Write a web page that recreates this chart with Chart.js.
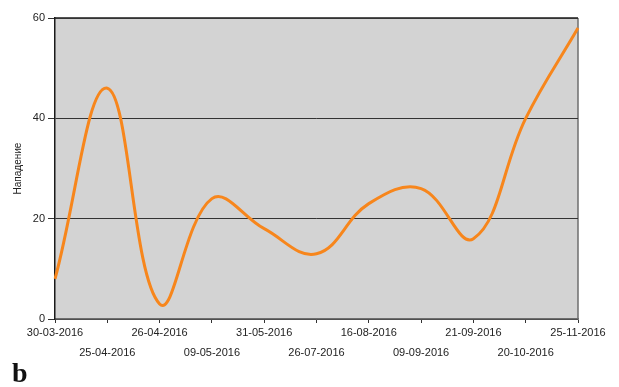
<!DOCTYPE html>
<html>
<head>
<meta charset="utf-8">
<script src="https://cdn.jsdelivr.net/npm/chart.js@4/dist/chart.umd.min.js"></script>
<style>
  html, body { margin: 0; padding: 0; background: #fff; }
  #wrap { width: 619px; height: 387px; position: relative; }
</style>
</head>
<body>
<div id="wrap"><canvas id="c" width="619" height="387"></canvas></div>
<script>
// Attack ("Нападение") readings by date
const dates = ['30-03-2016', '25-04-2016', '26-04-2016', '09-05-2016', '31-05-2016', '26-07-2016',
               '16-08-2016', '09-09-2016', '21-09-2016', '20-10-2016', '25-11-2016'];
const attack = [8, 46, 3, 24, 18, 13, 23, 26, 16, 40, 58];
const yTicks = [0, 20, 40, 60];

const PLOT = { left: 55, right: 578, top: 18, bottom: 319 };

// gray plot background plus frame lines
const plotFrame = {
  id: 'plotFrame',
  beforeDraw(chart) {
    const { ctx, chartArea: a } = chart;
    ctx.save();
    ctx.fillStyle = '#d3d3d3';
    ctx.fillRect(a.left, a.top, a.right - a.left, a.bottom - a.top);
    ctx.lineWidth = 1.5;
    ctx.strokeStyle = '#1a1a1a';
    ctx.beginPath();
    ctx.moveTo(a.left, a.top);
    ctx.lineTo(a.right, a.top);
    ctx.stroke();
    ctx.strokeStyle = '#6e6e6e';
    ctx.beginPath();
    ctx.moveTo(a.right, a.top);
    ctx.lineTo(a.right, a.bottom);
    ctx.stroke();
    ctx.restore();
  },
  afterDraw(chart) {
    const { ctx } = chart;
    ctx.save();
    ctx.fillStyle = '#111';
    ctx.font = 'bold 28px "Liberation Serif", "DejaVu Serif", serif';
    ctx.textBaseline = 'alphabetic';
    ctx.fillText('b', 12, 382);
    ctx.restore();
  }
};

new Chart(document.getElementById('c'), {
  type: 'line',
  data: {
    labels: dates,
    datasets: [{
      data: attack,
      borderColor: '#f7861c',
      borderWidth: 3,
      pointRadius: 0,
      tension: 0.4,
      fill: false
    }]
  },
  options: {
    responsive: false,
    animation: false,
    devicePixelRatio: 1,
    layout: { padding: { left: 0, right: 619 - PLOT.right, top: PLOT.top, bottom: 0 } },
    plugins: { legend: { display: false }, tooltip: { enabled: false } },
    scales: {
      x: {
        offset: false,
        afterFit(s) { s.height = 387 - PLOT.bottom; },
        border: { display: true, color: '#6e6e6e', width: 1.5 },
        grid: { display: true, drawOnChartArea: false, drawTicks: true, tickLength: 4, color: '#333', tickColor: '#333' },
        ticks: {
          autoSkip: false,
          maxRotation: 0,
          minRotation: 0,
          padding: 0,
          color: '#222',
          font: { family: '"Liberation Sans", Arial, sans-serif', size: 11, lineHeight: 1.82 },
          callback(value, index) {
            const lab = dates[index];
            return index % 2 === 0 ? [lab, ''] : ['', lab];
          }
        }
      },
      y: {
        min: 0,
        max: 60,
        afterFit(s) { s.width = PLOT.left; },
        afterBuildTicks(s) { s.ticks = yTicks.map(v => ({ value: v })); },
        border: { display: true, color: '#1a1a1a', width: 1.5 },
        grid: { color: '#333', lineWidth: 1, tickLength: 7, tickColor: '#333' },
        ticks: {
          padding: 3,
          color: '#222',
          font: { family: '"Liberation Sans", Arial, sans-serif', size: 11 }
        },
        title: {
          display: true,
          text: 'Нападение',
          color: '#222',
          padding: { top: 12, bottom: 0 },
          font: { family: '"Liberation Sans", Arial, sans-serif', size: 10 }
        }
      }
    }
  },
  plugins: [plotFrame]
});
</script>
</body>
</html>
